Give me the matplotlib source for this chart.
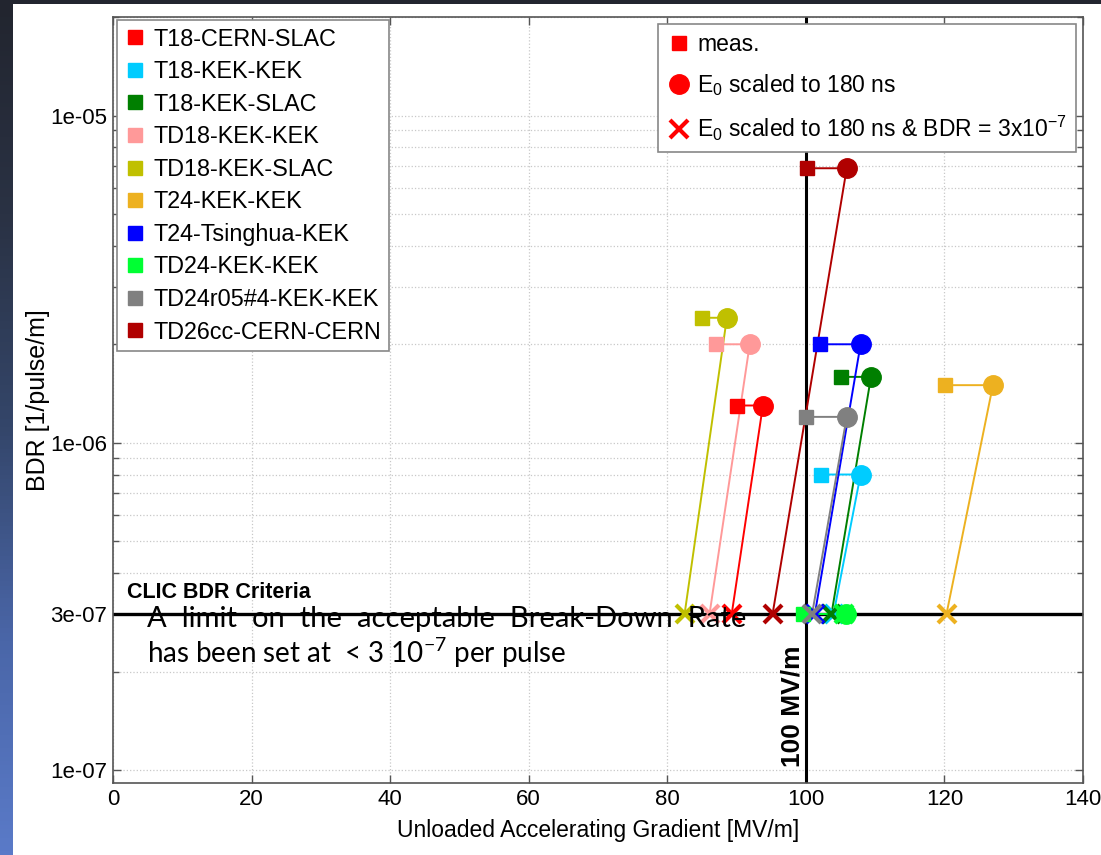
import numpy as np
import matplotlib
matplotlib.use("Agg")
import matplotlib.pyplot as plt
from matplotlib.lines import Line2D
from matplotlib.colors import LinearSegmentedColormap
from matplotlib.ticker import LogLocator, FixedLocator, NullFormatter

plt.rcParams['font.family'] = ['Liberation Sans', 'DejaVu Sans']
plt.rcParams['mathtext.default'] = 'regular'

# structures tested, measured point, scaled to 180 ns, and scaled to BDR = 3e-7
names = ['T18-CERN-SLAC', 'T18-KEK-KEK', 'T18-KEK-SLAC', 'TD18-KEK-KEK', 'TD18-KEK-SLAC',
         'T24-KEK-KEK', 'T24-Tsinghua-KEK', 'TD24-KEK-KEK', 'TD24r05#4-KEK-KEK', 'TD26cc-CERN-CERN']
colors = ['#ff0000', '#00ccff', '#007f00', '#ff9999', '#c0c000',
          '#edb120', '#0000ff', '#00ff33', '#808080', '#b00000']
meas_x = [90.0, 102.2, 105.1, 87.0, 85.0, 120.1, 102.0, 99.6, 100.0, 100.1]
scaled_x = [93.8, 107.9, 109.4, 91.9, 88.6, 127.0, 107.9, 105.8, 105.9, 105.9]
bdr = [1.30e-6, 8.0e-7, 1.59e-6, 2.0e-6, 2.41e-6, 1.50e-6, 2.0e-6, 3.0e-7, 1.20e-6, 6.9e-6]
cross_x = [89.3, 104.0, 103.7, 86.1, 82.5, 120.3, 101.3, 105.5, 100.9, 95.2]
bdr_limit = 3e-7
grad_limit = 100

fig = plt.figure(figsize=(11.01, 8.55), dpi=100)
fig.patch.set_facecolor('white')

# slide background strips
cmap = LinearSegmentedColormap.from_list('slide', ['#22252f', '#2a3244', '#34466a', '#4a66a8', '#5a7ac8'])
strip = fig.add_axes([0, 0, 13 / 1101, 1])
strip.imshow(np.linspace(0, 1, 200).reshape(-1, 1), aspect='auto', cmap=cmap)
strip.axis('off')
top = fig.add_axes([0, 1 - 4 / 855, 1, 4 / 855])
top.axis('off')
top.add_patch(plt.Rectangle((0, 0), 1, 1, color='#22252f', transform=top.transAxes))

ax = fig.add_axes([113 / 1101, 72 / 855, 970 / 1101, 766 / 855])
ax.set_yscale('log')
ax.set_xlim(0, 140)
ax.set_ylim(9.13e-8, 2.0e-5)

for i in range(len(names)):
    c = colors[i]
    ax.plot([meas_x[i], scaled_x[i], cross_x[i]], [bdr[i], bdr[i], bdr_limit],
            color=c, lw=1.4, zorder=3)
    ax.plot(meas_x[i], bdr[i], 's', color=c, ms=10, zorder=4)
    ax.plot(scaled_x[i], bdr[i], 'o', color=c, ms=14, zorder=4)
    ax.plot(cross_x[i], bdr_limit, 'x', color=c, ms=13, mew=3, zorder=4)

ax.axhline(bdr_limit, color='black', lw=2.4, zorder=2)
ax.axvline(grad_limit, color='black', lw=2.2, zorder=2)

ax.xaxis.set_major_locator(FixedLocator(np.arange(0, 141, 20)))
ax.yaxis.set_major_locator(FixedLocator([1e-7, 3e-7, 1e-6, 1e-5]))
ax.set_yticklabels(['1e-07', '3e-07', '1e-06', '1e-05'])
ax.yaxis.set_minor_locator(LogLocator(base=10, subs=np.arange(2, 10)))
ax.yaxis.set_minor_formatter(NullFormatter())
ax.tick_params(which='major', direction='in', length=6, width=1, top=True, right=True,
               labelsize=16, color='#555555', pad=4)
ax.tick_params(which='minor', direction='in', length=4, width=1, left=True, right=True,
               color='#555555')
ax.grid(True, which='major', axis='x', color='#c8c8c8', ls=':', lw=0.9)
ax.grid(True, which='both', axis='y', color='#c8c8c8', ls=':', lw=0.9)
for s in ax.spines.values():
    s.set_color('#555555')
    s.set_linewidth(1.2)

ax.set_xlabel('Unloaded Accelerating Gradient [MV/m]', fontsize=16.5, labelpad=7)
ax.set_ylabel('BDR [1/pulse/m]', fontsize=18, labelpad=0)

ax.text(2, 3.25e-7, 'CLIC BDR Criteria', fontsize=15.5, fontweight='bold', ha='left', va='bottom', zorder=6)
ax.text(98.1, 1.02e-7, '100 MV/m', fontsize=19, fontweight='bold', rotation=90,
        ha='center', va='bottom', zorder=6)

h1 = [Line2D([], [], marker='s', ls='none', color=c, ms=10) for c in colors]
leg1 = ax.legend(h1, names, loc='upper left', fontsize=16.8, frameon=True, fancybox=False,
                 edgecolor='#888888', framealpha=1, borderaxespad=0.15, handletextpad=0.3,
                 labelspacing=0.41, handlelength=1.0, borderpad=0.3)
leg1.get_frame().set_linewidth(1.2)
ax.add_artist(leg1)

h2 = [Line2D([], [], marker='s', ls='none', color='red', ms=10),
      Line2D([], [], marker='o', ls='none', color='red', ms=14),
      Line2D([], [], marker='x', ls='none', color='red', ms=13, mew=3)]
l2 = ['meas.', r'E$_0$ scaled to 180 ns', r'E$_0$ scaled to 180 ns & BDR = 3x10$^{-7}$']
leg2 = ax.legend(h2, l2, loc='upper right', fontsize=16.5, frameon=True, fancybox=False,
                 edgecolor='#888888', framealpha=1, borderaxespad=0.3, handletextpad=0.3,
                 labelspacing=0.7, handlelength=1.0, borderpad=0.4)
leg2.get_frame().set_linewidth(1.2)

# slide text box laid over the chart
fig.text(147 / 1101, 1 - 627 / 855, 'A  limit  on  the  acceptable  Break-Down  Rate',
         fontsize=21, family=['Lato', 'DejaVu Sans'], ha='left', va='baseline', zorder=10)
fig.text(147 / 1101, 1 - 663 / 855, r'has been set at  < 3 10$^{-7}$ per pulse',
         fontsize=20, family=['Lato', 'DejaVu Sans'], ha='left', va='baseline', zorder=10)

fig.savefig('out.png', dpi=100)
